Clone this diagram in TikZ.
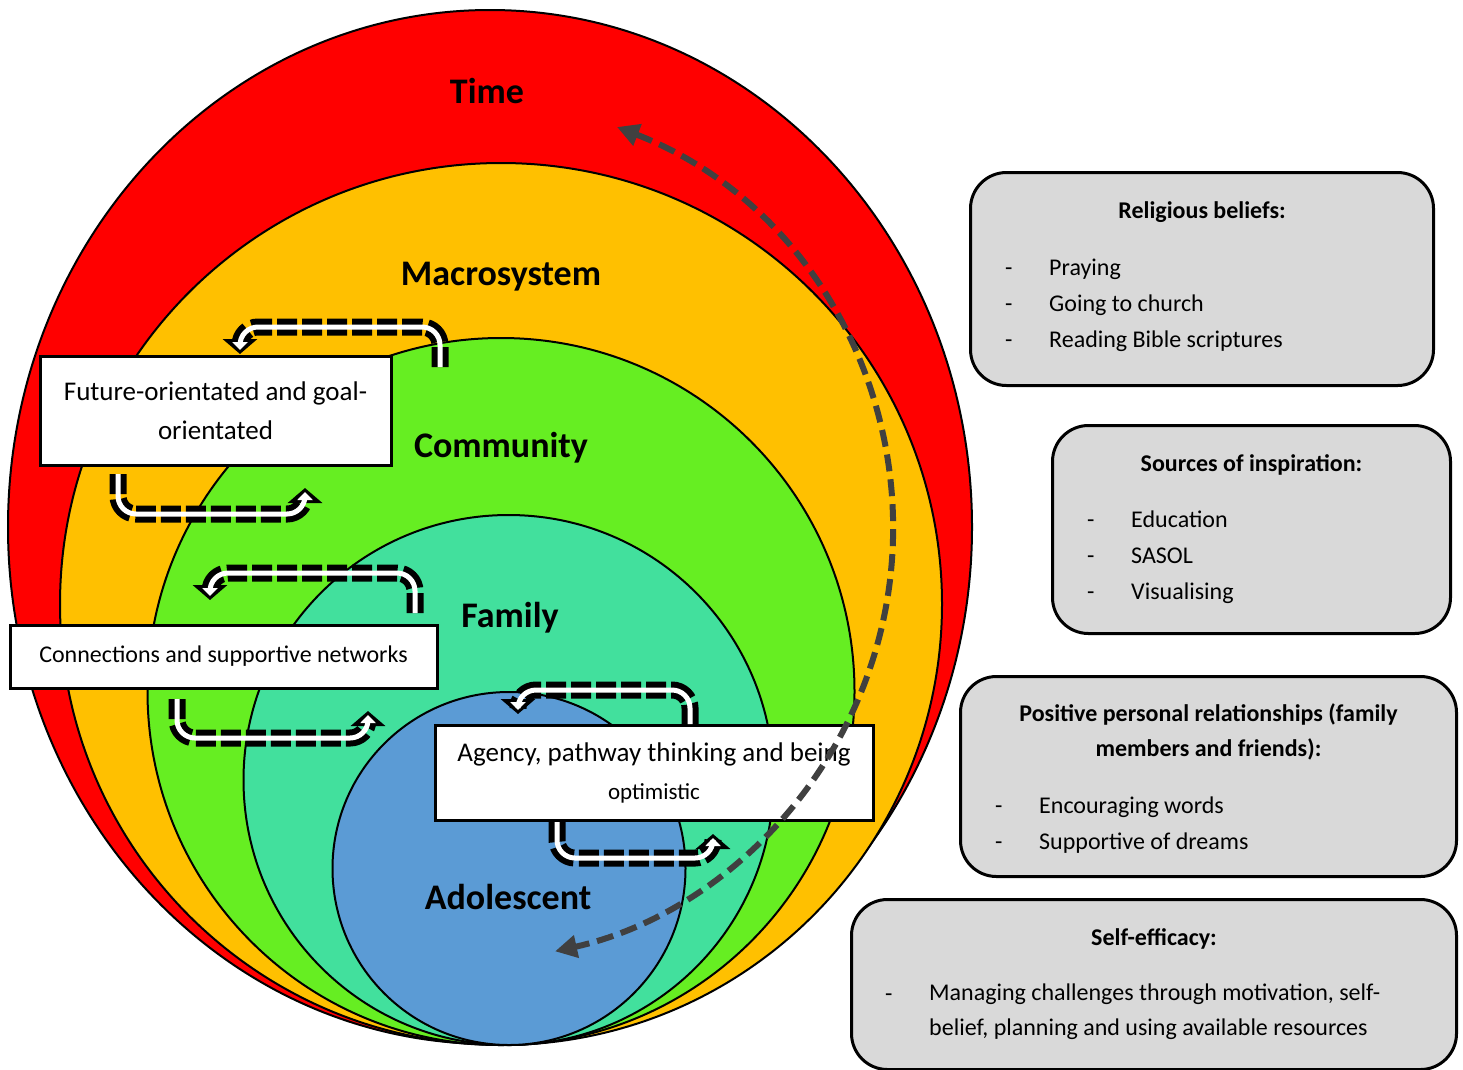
\documentclass[tikz,border=0pt]{standalone}
\usepackage{fontspec}
\setmainfont{Carlito}
\usepackage{xcolor}
\usetikzlibrary{arrows.meta,positioning,calc}

\definecolor{timered}{HTML}{FF0000}
\definecolor{macroorange}{HTML}{FFC000}
\definecolor{commgreen}{HTML}{66EE22}
\definecolor{famteal}{HTML}{42E09D}
\definecolor{adolblue}{HTML}{5B9BD5}
\definecolor{boxgray}{HTML}{D9D9D9}
\definecolor{arcgray}{HTML}{404040}

\tikzset{
  layer/.style={font=\fontsize{36}{40}\selectfont\bfseries,anchor=base},
  strength/.style={draw,line width=3pt,fill=white,align=center,inner sep=0pt,font=\fontsize{27}{39}\selectfont},
  infobox/.style={draw,line width=3pt,fill=boxgray,rounded corners=36pt,anchor=north west,inner sep=0pt},
  boxhead/.style={font=\fontsize{24}{35}\selectfont\bfseries,align=center,inner sep=0pt},
  boxitem/.style={font=\fontsize{24}{35}\selectfont,align=left,inner sep=0pt},
  loopdark/.style={line width=17pt,dash pattern=on 20pt off 5pt,rounded corners=18pt,-{Triangle[length=15pt,width=34pt]}},
  looplight/.style={white,line width=5pt,rounded corners=18pt,shorten >=4pt,-{Triangle[length=8pt,width=15pt]}},
  timeflow/.style={arcgray,line width=6pt,dash pattern=on 17pt off 8pt,{Triangle[length=22pt,width=22pt]}-{Triangle[length=22pt,width=22pt]}}
}

\begin{document}
\begin{tikzpicture}[x=1pt,y=-1pt]
  \useasboundingbox (0,0) rectangle (1463,1069);

  \fill[timered] (490,527) ellipse[x radius=482,y radius=517];
  \draw[line width=2pt] (490,527) ellipse[x radius=482,y radius=517];
  \foreach \cx/\cy/\r/\c in {501/604/441/macroorange,501/691.5/353.5/commgreen,508.5/780/265/famteal,509/868.5/176.5/adolblue} {
    \fill[\c] (\cx,\cy) circle[radius=\r];
    \draw[line width=2pt] (\cx,\cy) circle[radius=\r];
  }

  \node[layer] (time) at (487,103) {Time};
  \node[layer] (macro) at (501,285) {Macrosystem};
  \node[layer] (comm) at (501,457) {Community};
  \node[layer] (fam) at (510,627) {Family};
  \node[layer] (adol) at (508,909) {Adolescent};

  \node[strength,minimum width=351,minimum height=109] (fut) at (215.5,410.5) {Future-orientated and goal-\\orientated};
  \node[strength,minimum width=427,minimum height=63,font=\fontsize{24}{30}\selectfont] (conn) at (223.5,656.5) {Connections and supportive networks};
  \node[strength,minimum width=438,minimum height=95,font=\fontsize{27}{38}\selectfont] (agency) at (654,772.5) {Agency, pathway thinking and being\\{\fontsize{23}{38}\selectfont optimistic}};

  \foreach \xa/\ya/\ym/\xb/\yb in {440/367/327/240/354,118/474/514/305/488,415/613/573/210/600,177/699/738/368/711,690/724/690/518/714,557/822/858/713/834} {
    \draw[loopdark] (\xa,\ya) -- (\xa,\ym) -- (\xb,\ym) -- (\xb,\yb);
    \draw[looplight] (\xa,\ya) -- (\xa,\ym) -- (\xb,\ym) -- (\xb,\yb);
  }

  \coordinate (future) at (617,127);
  \draw[timeflow] (future) arc[start angle=-68.8,end angle=77.4,radius=432] coordinate (now);

  % resources
  \node[infobox,minimum width=463,minimum height=213] (relig) at (969,171) {};
  \node[boxhead,anchor=base] at ($(relig.north)+(0,47)$) {Religious beliefs:};
  \foreach \t [count=\i] in {Praying,Going to church,Reading Bible scriptures} {
    \node[boxitem,anchor=base west] at ($(relig.north west)+(36,68+36*\i)$) {-};
    \node[boxitem,anchor=base west] at ($(relig.north west)+(80,68+36*\i)$) {\t};
  }

  \node[infobox,minimum width=398,minimum height=208] (insp) at (1051,424) {};
  \node[boxhead,anchor=base] at ($(insp.north)+(0,47)$) {Sources of inspiration:};
  \foreach \t [count=\i] in {Education,SASOL,Visualising} {
    \node[boxitem,anchor=base west] at ($(insp.north west)+(36,67+36*\i)$) {-};
    \node[boxitem,anchor=base west] at ($(insp.north west)+(80,67+36*\i)$) {\t};
  }

  \node[infobox,minimum width=496,minimum height=200] (relat) at (959,675) {};
  \node[boxhead,anchor=center] at ($(relat.north)+(0,56.5)$) {Positive personal relationships (family\\members and friends):};
  \foreach \t [count=\i] in {Encouraging words,Supportive of dreams} {
    \node[boxitem,anchor=base west] at ($(relat.north west)+(36,102+36*\i)$) {-};
    \node[boxitem,anchor=base west] at ($(relat.north west)+(80,102+36*\i)$) {\t};
  }

  \node[infobox,minimum width=605,minimum height=170] (selfeff) at (850,898) {};
  \node[boxhead,anchor=base] at ($(selfeff.north)+(0,47)$) {Self-efficacy:};
  \node[boxitem,anchor=base west] at ($(selfeff.north west)+(35,103)$) {-};
  \node[boxitem,anchor=west] at ($(selfeff.north west)+(79,114)$) {Managing challenges through motivation, self-\\belief, planning and using available resources};
\end{tikzpicture}
\end{document}
